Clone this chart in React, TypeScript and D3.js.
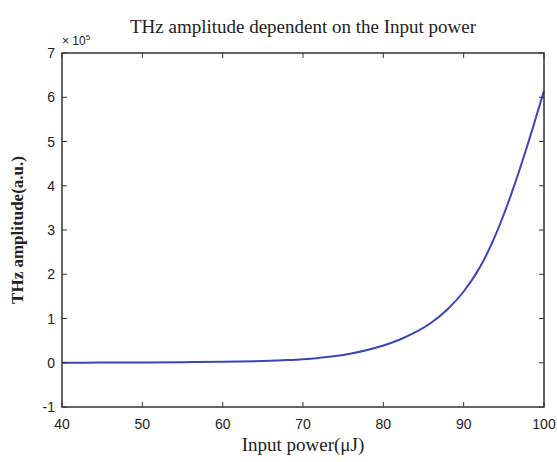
import React from "react";
import * as d3 from "d3";

const inputPower = [40, 45, 50, 55, 60, 65, 68, 70, 72, 74, 76, 78, 80, 82, 84, 86, 88, 90, 92, 94, 96, 98, 100];
const amplitude = [0.0, 0.004, 0.008, 0.013, 0.02, 0.04, 0.06, 0.08, 0.11, 0.15, 0.21, 0.29, 0.39, 0.52, 0.69, 0.91, 1.21, 1.61, 2.15, 2.9, 3.85, 4.95, 6.15];
const xTicks = [40, 50, 60, 70, 80, 90, 100];
const yTicks = [-1, 0, 1, 2, 3, 4, 5, 6, 7];
const title = "THz amplitude dependent on the Input power";
const xLabel = "Input power(\u03bcJ)";
const yLabel = "THz amplitude(a.u.)";

const W = 557, H = 462;
const L = 62, R = 544, T = 53, B = 407;

export default function App() {
  const x = d3.scaleLinear().domain([40, 100]).range([L, R]);
  const y = d3.scaleLinear().domain([-1, 7]).range([B, T]);
  const line = d3.line<number>().x((_, i) => x(inputPower[i])).y((d) => y(d)).curve(d3.curveMonotoneX);
  const axisColor = "#333";
  const tk = 5;
  const sans = "Liberation Sans, Arial, sans-serif";
  const serif = "Liberation Serif, Times New Roman, serif";
  return (
    <svg width={W} height={H} style={{ position: "absolute", left: 0, top: 0, background: "#fff" }}>
      <rect x={0} y={0} width={W} height={H} fill="#fff" />
      <text x={(L + R) / 2} y={33} textAnchor="middle" fontFamily={serif} fontSize={19} fill="#222">{title}</text>
      <path d={line(amplitude) || ""} fill="none" stroke="#3a45b8" strokeWidth={2} />
      <rect x={L} y={T} width={R - L} height={B - T} fill="none" stroke={axisColor} strokeWidth={1.5} />
      {xTicks.map((t) => (
        <g key={"x" + t}>
          <line x1={x(t)} x2={x(t)} y1={B} y2={B - tk} stroke={axisColor} />
          <line x1={x(t)} x2={x(t)} y1={T} y2={T + tk} stroke={axisColor} />
          <text x={x(t)} y={429} textAnchor="middle" fontFamily={sans} fontSize={14} fill="#222">{t}</text>
        </g>
      ))}
      {yTicks.map((t) => (
        <g key={"y" + t}>
          <line x1={L} x2={L + tk} y1={y(t)} y2={y(t)} stroke={axisColor} />
          <line x1={R} x2={R - tk} y1={y(t)} y2={y(t)} stroke={axisColor} />
          <text x={55} y={y(t) + 5} textAnchor="end" fontFamily={sans} fontSize={14} fill="#222">{t}</text>
        </g>
      ))}
      <text x={62} y={45} fontFamily={sans} fontSize={12} fill="#222">
        {"\u00d7 10"}
        <tspan dy={-5} fontSize={8}>5</tspan>
      </text>
      <text x={(L + R) / 2} y={451} textAnchor="middle" fontFamily={serif} fontSize={19} fill="#222">{xLabel}</text>
      <text transform={`translate(23, ${(T + B) / 2}) rotate(-90)`} textAnchor="middle" fontFamily={serif} fontWeight="bold" fontSize={17} fill="#222">{yLabel}</text>
    </svg>
  );
}
